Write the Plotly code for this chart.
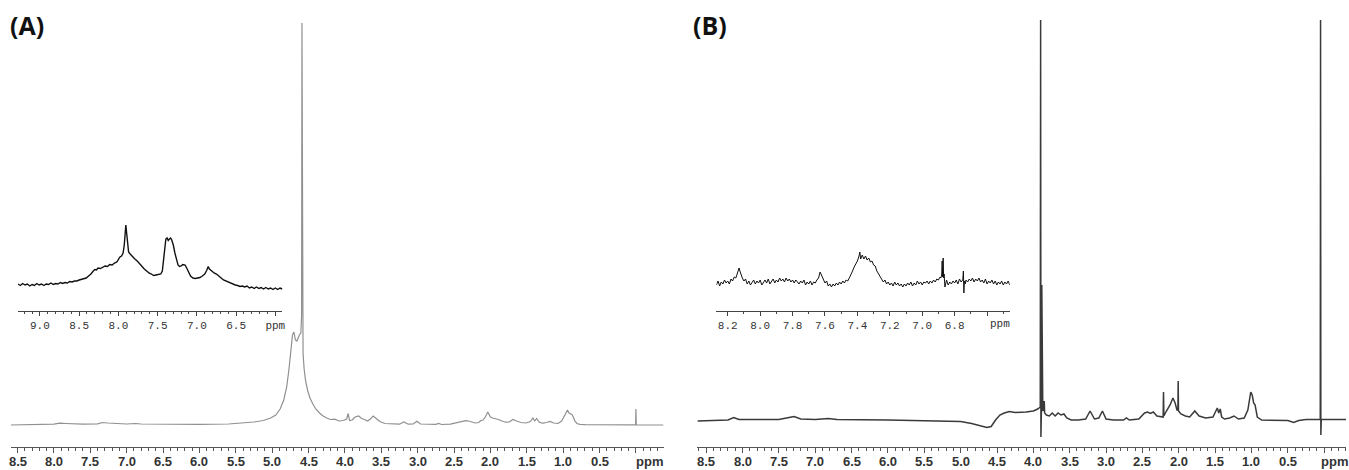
import plotly.graph_objects as go

W, H = 1349, 470

# ---------------- Panel A : main 1H spectrum (ppm, intensity) ----------------
a_ppm = [8.62, 8.30, 8.00, 7.92, 7.88, 7.84, 7.60, 7.40, 7.33, 7.26, 7.00, 6.88, 6.80, 6.50,
         6.00, 5.60, 5.40, 5.25, 5.12, 5.02, 4.95, 4.89, 4.84, 4.80, 4.77, 4.745, 4.72, 4.70,
         4.68, 4.66, 4.64, 4.625, 4.605, 4.595, 4.590, 4.585, 4.575, 4.56, 4.54, 4.51, 4.48,
         4.44, 4.40, 4.35, 4.30, 4.25, 4.20, 4.14, 4.08, 4.02, 3.975, 3.955, 3.945, 3.935,
         3.90, 3.86, 3.81, 3.77, 3.73, 3.69, 3.65, 3.61, 3.57, 3.52, 3.45, 3.35, 3.25, 3.19,
         3.13, 3.06, 3.01, 2.96, 2.86, 2.75, 2.71, 2.67, 2.55, 2.45, 2.39, 2.34, 2.30, 2.26,
         2.21, 2.16, 2.13, 2.10, 2.07, 2.035, 2.02, 2.00, 1.97, 1.93, 1.89, 1.84, 1.79, 1.74,
         1.69, 1.64, 1.58, 1.51, 1.45, 1.415, 1.39, 1.365, 1.33, 1.30, 1.27, 1.23, 1.18, 1.13,
         1.07, 1.02, 0.98, 0.955, 0.94, 0.92, 0.90, 0.88, 0.86, 0.84, 0.81, 0.77, 0.70, 0.50,
         0.20, 0.006, 0.003, 0.0, -0.003, -0.006, -0.10, -0.38]
a_int = [0.0, 0.5, 0.8, 1.8, 2.0, 1.5, 0.8, 1.2, 2.5, 2.0, 1.0, 1.5, 1.0, 0.6,
         0.6, 1.0, 1.8, 3.0, 4.5, 7.0, 10.0, 16.0, 25.0, 38.0, 55.0, 75.0, 90.0, 93.0,
         85.0, 84.0, 88.0, 90.0, 92.0, 110.0, 402.0, 110.0, 72.0, 56.0, 44.0, 34.0, 27.0,
         21.0, 16.0, 12.0, 9.0, 7.0, 5.5, 5.8, 4.0, 4.5, 6.0, 11.5, 6.0, 4.5,
         5.0, 8.0, 9.0, 6.5, 5.5, 4.0, 6.0, 9.0, 6.5, 3.5, 1.5, 0.8, 0.8, 3.0,
         0.8, 1.0, 3.7, 1.0, 0.5, 0.6, 1.5, 0.5, 0.8, 2.5, 4.0, 4.3, 4.0, 3.2,
         2.0, 2.5, 4.5, 5.0, 8.0, 13.0, 10.0, 8.0, 7.0, 6.5, 5.5, 4.0, 2.8, 3.0,
         5.5, 4.0, 2.5, 2.0, 3.5, 7.0, 4.0, 6.5, 3.0, 2.2, 1.8, 2.5, 3.5, 2.0,
         1.5, 4.0, 9.0, 13.0, 15.0, 12.0, 11.0, 10.5, 8.0, 4.0, 1.5, 0.6, 0.3, 0.2,
         0.1, 0.1, 1.0, 16.0, 1.0, 0.1, 0.0, 0.0]

# ---------------- Panel A : aromatic inset ----------------
ai_ppm = [9.28, 9.25, 9.22, 9.19, 9.16, 9.13, 9.10, 9.07, 9.04, 9.01, 8.98, 8.95, 8.92, 8.89,
          8.86, 8.83, 8.80, 8.77, 8.74, 8.71, 8.68, 8.65, 8.62, 8.59, 8.56, 8.53, 8.50, 8.47,
          8.44, 8.41, 8.38, 8.35, 8.32, 8.30, 8.28, 8.26, 8.23, 8.20, 8.17, 8.14, 8.11, 8.08,
          8.05, 8.02, 8.00, 7.98, 7.96, 7.94, 7.925, 7.915, 7.905, 7.895, 7.885, 7.87, 7.85,
          7.82, 7.79, 7.76, 7.73, 7.70, 7.67, 7.64, 7.61, 7.58, 7.55, 7.52, 7.49, 7.46, 7.44,
          7.425, 7.41, 7.395, 7.38, 7.365, 7.35, 7.335, 7.32, 7.30, 7.28, 7.26, 7.24, 7.22,
          7.20, 7.18, 7.15, 7.13, 7.11, 7.08, 7.05, 7.02, 6.99, 6.96, 6.93, 6.90, 6.875,
          6.855, 6.84, 6.81, 6.78, 6.75, 6.72, 6.69, 6.66, 6.63, 6.60, 6.57, 6.54, 6.51, 6.48,
          6.45, 6.42, 6.39, 6.36, 6.33, 6.30, 6.27, 6.24, 6.21, 6.18, 6.15, 6.12, 6.09, 6.06,
          6.03, 6.00, 5.97, 5.94, 5.91]
ai_int = [1.0, -0.5, 1.5, 0.0, 1.0, -1.0, 0.5, -0.5, 1.5, 0.0, 1.0, -0.5, 1.0, 0.5,
          2.0, 0.5, 1.5, 1.0, 2.5, 1.5, 2.5, 2.0, 3.5, 3.0, 4.0, 4.0, 5.0, 5.5,
          6.5, 7.0, 9.0, 11.0, 14.0, 15.5, 15.0, 17.0, 16.5, 18.0, 19.0, 18.5, 20.5, 20.0,
          22.0, 23.0, 26.0, 28.0, 29.0, 32.0, 40.0, 55.0, 60.0, 52.0, 40.0, 33.0, 31.0,
          28.0, 26.0, 24.0, 21.0, 19.0, 16.0, 14.0, 12.0, 11.0, 9.5, 10.0, 10.5, 11.0, 14.0,
          25.0, 40.0, 46.0, 47.0, 44.5, 46.0, 47.0, 45.0, 40.0, 32.0, 25.0, 20.0, 18.5,
          19.0, 20.5, 20.0, 17.0, 13.0, 9.0, 7.0, 6.5, 7.0, 7.5, 9.0, 11.0, 14.5,
          18.5, 16.0, 14.0, 12.0, 11.0, 8.5, 7.0, 5.0, 4.0, 2.5, 2.0, 0.5, 0.0, -0.5,
          -1.5, -1.0, -2.0, -1.0, -3.0, -2.0, -3.5, -2.0, -3.5, -2.5, -4.0, -2.5, -4.0, -3.0,
          -4.5, -3.0, -4.5, -3.0, -4.0]

# ---------------- Panel B : main 1H spectrum ----------------
b_ppm = [8.62, 8.40, 8.20, 8.12, 8.05, 7.80, 7.60, 7.50, 7.36, 7.29, 7.20, 7.00, 6.82, 6.70,
         6.00, 5.50, 5.00, 4.85, 4.72, 4.64, 4.58, 4.52, 4.46, 4.40, 4.33, 4.25, 4.10, 4.00,
         3.94, 3.905, 3.900, 3.896, 3.892, 3.888, 3.884, 3.880, 3.870, 3.855, 3.850, 3.845,
         3.82, 3.78, 3.74, 3.70, 3.66, 3.62, 3.58, 3.54, 3.48, 3.38, 3.28, 3.22, 3.16, 3.10,
         3.05, 3.00, 2.90, 2.76, 2.72, 2.68, 2.55, 2.47, 2.43, 2.39, 2.35, 2.30, 2.25, 2.215,
         2.210, 2.205, 2.17, 2.12, 2.08, 2.05, 2.025, 2.012, 2.008, 2.004, 1.97, 1.91, 1.85,
         1.78, 1.72, 1.63, 1.53, 1.47, 1.45, 1.43, 1.41, 1.37, 1.30, 1.24, 1.18, 1.10, 1.05,
         1.01, 0.99, 0.97, 0.95, 0.92, 0.86, 0.70, 0.50, 0.42, 0.35, 0.25, 0.054, 0.050, 0.046,
         0.040, -0.30]
b_int = [4.0, 4.5, 5.0, 7.5, 5.5, 5.5, 5.0, 5.5, 7.5, 8.5, 6.0, 5.5, 6.5, 5.5,
         5.0, 4.5, 3.5, 1.5, -1.0, -2.5, -1.5, 5.0, 10.0, 12.0, 13.5, 12.5, 13.0, 14.0,
         16.0, 18.0, 405.0, -12.0, 400.0, 20.0, 140.0, 15.0, 14.0, 16.0, 24.0, 12.0,
         10.0, 9.0, 12.0, 9.0, 12.0, 10.0, 11.0, 7.0, 5.0, 5.0, 6.0, 14.0, 6.0, 7.0,
         14.0, 6.0, 5.0, 5.0, 7.0, 5.0, 6.0, 12.0, 13.0, 11.5, 13.0, 9.0, 8.0, 8.0,
         33.0, 9.0, 14.0, 20.0, 27.0, 22.0, 15.0, 15.0, 44.0, 14.0, 11.0, 9.0, 8.0,
         14.0, 9.0, 7.0, 8.0, 17.0, 12.0, 16.0, 8.0, 6.0, 7.0, 9.0, 6.0, 7.0, 15.0,
         33.0, 30.0, 22.0, 20.0, 8.0, 5.0, 4.5, 4.5, 2.5, 4.5, 5.5, 5.5, 405.0, -10.0,
         5.5, 5.5]

# ---------------- Panel B : aromatic inset ----------------
bi_ppm = [8.27, 8.26, 8.25, 8.24, 8.23, 8.22, 8.21, 8.20, 8.19, 8.18, 8.17, 8.16, 8.15, 8.14,
          8.13, 8.125, 8.12, 8.11, 8.10, 8.09, 8.08, 8.07, 8.06, 8.05, 8.04, 8.03, 8.02, 8.01,
          8.00, 7.99, 7.98, 7.97, 7.96, 7.95, 7.94, 7.93, 7.92, 7.91, 7.90, 7.89, 7.88, 7.87,
          7.86, 7.85, 7.84, 7.83, 7.82, 7.81, 7.80, 7.79, 7.78, 7.77, 7.76, 7.75, 7.74, 7.73,
          7.72, 7.71, 7.70, 7.69, 7.68, 7.67, 7.66, 7.65, 7.64, 7.63, 7.62, 7.61, 7.60, 7.59,
          7.58, 7.57, 7.56, 7.55, 7.54, 7.53, 7.52, 7.51, 7.50, 7.49, 7.48, 7.47, 7.46, 7.45,
          7.44, 7.43, 7.42, 7.41, 7.40, 7.39, 7.385, 7.38, 7.37, 7.36, 7.35, 7.34, 7.33, 7.32,
          7.31, 7.30, 7.29, 7.28, 7.27, 7.26, 7.25, 7.24, 7.23, 7.22, 7.21, 7.20, 7.19, 7.18,
          7.17, 7.16, 7.15, 7.14, 7.13, 7.12, 7.11, 7.10, 7.09, 7.08, 7.07, 7.06, 7.05, 7.04,
          7.03, 7.02, 7.01, 7.00, 6.99, 6.98, 6.97, 6.96, 6.95, 6.94, 6.93, 6.92, 6.91, 6.90,
          6.89, 6.885, 6.88, 6.877, 6.874, 6.871, 6.868, 6.865, 6.86, 6.85, 6.84, 6.83, 6.82,
          6.81, 6.80, 6.79, 6.78, 6.77, 6.76, 6.75, 6.746, 6.743, 6.740, 6.735, 6.73, 6.72,
          6.71, 6.70, 6.69, 6.68, 6.67, 6.66, 6.65, 6.64, 6.63, 6.62, 6.61, 6.60, 6.59, 6.58,
          6.57, 6.56, 6.55, 6.54, 6.53, 6.52, 6.51, 6.50, 6.49, 6.48, 6.47, 6.46]
bi_int = [-2, 2, -3, 1, -1, 3, 0, 2, -1, 4, 2, 6, 5, 11,
          15, 12, 9, 5, 2, 4, -1, 2, -2, 1, 3, -1, 2, 0,
          3, -2, 1, 3, 0, 4, -1, 2, 4, 0, 3, 1, 5, 2,
          4, 1, 5, 2, 4, 1, 3, 0, 3, 1, -1, 2, 0, 3,
          -2, 1, -1, 2, -2, 1, 0, 3, 5, 11, 7, 4, 0, 2,
          -3, -1, -4, -1, -3, 0, -2, 1, -1, 2, 0, 3, 2, 5,
          8, 12, 16, 19, 22, 27, 31, 24, 28, 24, 27, 23, 25, 21,
          22, 18, 17, 12, 9, 6, 4, 1, 3, -1, 1, -2, 0, -3,
          1, -2, 0, -3, -1, -4, -1, -3, 0, -2, 1, -3, 0, -2,
          2, -1, 1, -2, 1, 0, 2, -1, 2, 0, 3, 1, 4, 3,
          6, 5, 8, 22, 6, 25, 5, 9, -4, 3, -2, 1, -1,
          2, 0, 3, -1, 4, 1, 3, 12, -10, 2, -1, 3, 1,
          4, 2, 5, 1, 4, 2, 5, 1, 3, 0, 4, -1, 2, 0,
          3, -1, 2, -2, 1, -1, 2, -2, 1, -1, 2, -2, 0, 1]

main_ticks = [8.5, 8.0, 7.5, 7.0, 6.5, 6.0, 5.5, 5.0, 4.5, 4.0, 3.5, 3.0, 2.5, 2.0, 1.5, 1.0, 0.5, 0.0]
main_labels = ["8.5", "8.0", "7.5", "7.0", "6.5", "6.0", "5.5", "5.0", "4.5", "4.0", "3.5", "3.0",
               "2.5", "2.0", "1.5", "1.0", "0.5", ""]
ia_ticks = [9.0, 8.5, 8.0, 7.5, 7.0, 6.5, 6.0]
ia_labels = ["9.0", "8.5", "8.0", "7.5", "7.0", "6.5", "ppm"]
ib_ticks = [8.2, 8.0, 7.8, 7.6, 7.4, 7.2, 7.0, 6.8, 6.6]
ib_labels = ["8.2", "8.0", "7.8", "7.6", "7.4", "7.2", "7.0", "6.8", ""]


def px(x):
    return x / W


def py(y):
    return 1 - y / H


fig = go.Figure()
fig.add_trace(go.Scatter(x=a_ppm, y=a_int, mode="lines", line=dict(color="#909090", width=1.2),
                         xaxis="x", yaxis="y", hoverinfo="skip"))
fig.add_trace(go.Scatter(x=ai_ppm, y=ai_int, mode="lines", line=dict(color="#111111", width=1.4),
                         xaxis="x2", yaxis="y2", hoverinfo="skip"))
fig.add_trace(go.Scatter(x=b_ppm, y=b_int, mode="lines", line=dict(color="#3a3a3a", width=1.5),
                         xaxis="x3", yaxis="y3", hoverinfo="skip"))
fig.add_trace(go.Scatter(x=bi_ppm, y=bi_int, mode="lines", line=dict(color="#111111", width=1.0),
                         xaxis="x4", yaxis="y4", hoverinfo="skip"))

main_font = dict(family="Liberation Sans, Arial", size=13, color="#333333")
mono_font = dict(family="Liberation Mono, Courier New, monospace", size=11, color="#333333")


def main_x(dom, rng):
    return dict(domain=dom, range=rng, showgrid=False, zeroline=False, showline=True,
                linecolor="#555555", linewidth=1, ticks="outside", ticklen=5, tickwidth=1,
                tickcolor="#555555", tickmode="array", tickvals=main_ticks,
                showticklabels=False,
                minor=dict(tickmode="linear", tick0=0, dtick=0.1, ticks="outside", ticklen=3,
                           tickcolor="#555555", tickwidth=1))


def inset_x(dom, rng, tv, tt):
    return dict(domain=dom, range=rng, showgrid=False, zeroline=False, showline=True,
                linecolor="#444444", linewidth=1, ticks="outside", ticklen=4, tickwidth=1,
                tickcolor="#444444", tickmode="array", tickvals=tv, ticktext=tt,
                tickfont=mono_font,
                minor=dict(tickmode="linear", tick0=0, dtick=0.1, ticks="outside", ticklen=2,
                           tickcolor="#444444", tickwidth=1))


def hidden_y(dom, rng, anchor):
    return dict(domain=dom, range=rng, visible=False, fixedrange=True, anchor=anchor)


main_ydom = [py(447), py(5)]
inset_ydom = [py(311), py(200)]

fig.update_layout(
    width=W, height=H, margin=dict(l=0, r=0, t=0, b=0),
    paper_bgcolor="white", plot_bgcolor="rgba(0,0,0,0)", showlegend=False,
    xaxis=dict(main_x([px(11), px(665)], [8.59, -0.38]), anchor="y"),
    yaxis=hidden_y(main_ydom, [-22, 420], "x"),
    xaxis2=dict(inset_x([px(18), px(283)], [9.28, 5.91], ia_ticks, ia_labels), anchor="y2"),
    yaxis2=hidden_y(inset_ydom, [-26, 85], "x2"),
    xaxis3=dict(main_x([px(699), px(1349)], [8.62, -0.30]), anchor="y3"),
    yaxis3=hidden_y(main_ydom, [-22, 420], "x3"),
    xaxis4=dict(inset_x([px(718), px(1012)], [8.27, 6.46], ib_ticks, ib_labels), anchor="y4"),
    yaxis4=hidden_y(inset_ydom, [-28, 83], "x4"),
)

annots = [
    dict(text="<b>(A)</b>", x=px(8), y=py(25), xanchor="left", yanchor="middle", xref="paper",
         font=dict(family="Open Sans, Arial", size=25, color="#111111")),
    dict(text="<b>(B)</b>", x=px(693), y=py(25), xanchor="left", yanchor="middle", xref="paper",
         font=dict(family="Open Sans, Arial", size=25, color="#111111")),
    dict(text="<b>ppm</b>", x=px(651), y=py(461), xanchor="center", yanchor="middle",
         xref="paper", font=main_font),
    dict(text="<b>ppm</b>", x=px(1337), y=py(461), xanchor="center", yanchor="middle",
         xref="paper", font=main_font),
    dict(text="ppm", x=px(1002), y=py(324), xanchor="center", yanchor="middle", xref="paper",
         font=mono_font),
]
# main-axis tick labels, placed through each axis' own scale
for xr in ("x", "x3"):
    for v, t in zip(main_ticks, main_labels):
        if t:
            annots.append(dict(text="<b>%s</b>" % t, x=v, xref=xr, y=py(461), xanchor="center",
                               yanchor="middle", font=main_font))
for a in annots:
    a.update(yref="paper", showarrow=False)
fig.update_layout(annotations=annots)

# the page's default body margin would push the 1349x470 figure off the window
fig.write_html("out.html", config={"displayModeBar": False},
               post_script="document.body.style.margin='0';document.body.style.overflow='hidden';")
